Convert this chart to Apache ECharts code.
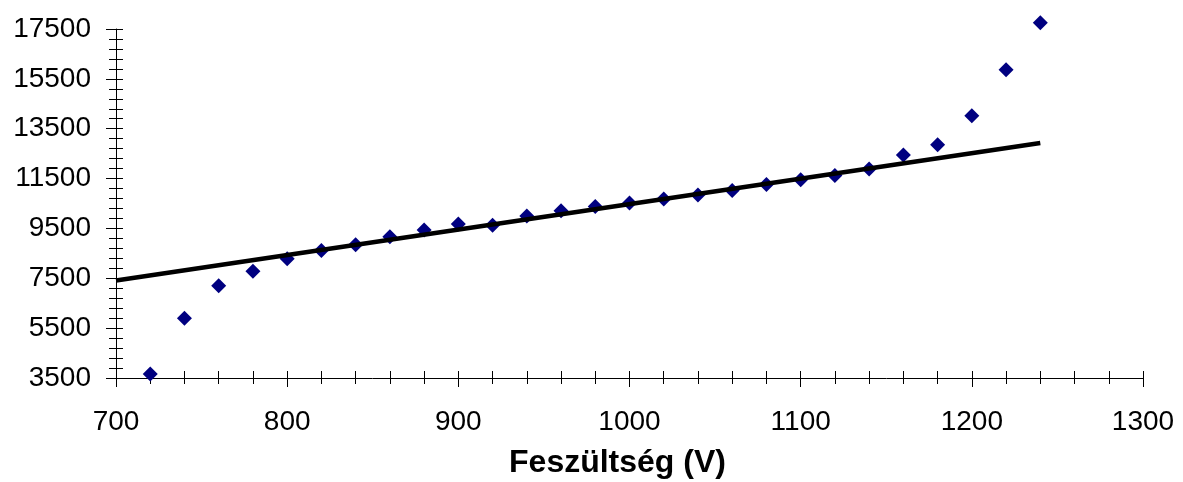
<!DOCTYPE html>
<html lang="hu">
<head>
	<meta charset="UTF-8">
	<title>Feszültség</title>
	<script src="https://cdn.jsdelivr.net/npm/echarts@6/dist/echarts.min.js"></script>
	<style>
		html, body { margin: 0; padding: 0; background: #fff; }
	</style>
</head>
<body>
	<div id="chart" style="width: 1183px; height: 482px;"></div>
	<script type="text/javascript">

		const voltage = [720, 740, 760, 780, 800, 820, 840, 860, 880, 900, 920, 940, 960, 980,
			1000, 1020, 1040, 1060, 1080, 1100, 1120, 1140, 1160, 1180, 1200, 1220, 1240];
		const counts = [3660, 5900, 7200, 7780, 8280, 8610, 8850, 9170, 9440, 9680, 9630, 10000,
			10210, 10380, 10520, 10680, 10840, 11020, 11260, 11450, 11620, 11880, 12450, 12860,
			14020, 15870, 17750];
		// trendline end points (V, value)
		const trendX = [700, 1240];
		const trendY = [7410, 12925];

		const xName = 'Feszültség (V)';
		const font = 'Liberation Sans, Arial, sans-serif';

		const chart = echarts.init(document.getElementById('chart'));

		const plain = (v) => String(v);
		const xBase = { type: 'value', min: 700, max: 1300, interval: 100, position: 'bottom', splitLine: { show: false } };
		const yBase = { type: 'value', min: 3500, max: 17500, interval: 2000, position: 'left', splitLine: { show: false } };

		chart.setOption({
			animation: false,
			grid: { left: 116, right: 40, top: 29, bottom: 104, containLabel: false, outerBoundsMode: 'none' },
			xAxis: [Object.assign({}, xBase, {
				name: xName,
				nameLocation: 'middle',
				nameGap: 69,
				nameTextStyle: { fontFamily: font, fontSize: 32, fontWeight: 'bold', color: '#000', padding: [0, 24, 0, 0] },
				axisLine: { lineStyle: { color: '#000', width: 1 } },
				axisTick: { show: true, inside: false, length: 9, lineStyle: { color: '#000' } },
				minorTick: { show: true, splitNumber: 5, length: 6, lineStyle: { color: '#000' } },
				axisLabel: { fontFamily: font, fontSize: 28, color: '#000', margin: 30, formatter: plain }
			}), Object.assign({}, xBase, {
				axisLine: { show: false },
				axisTick: { show: true, inside: true, length: 7, lineStyle: { color: '#000' } },
				minorTick: { show: true, splitNumber: 5, length: 7, lineStyle: { color: '#000' } },
				axisLabel: { show: false }
			})],
			yAxis: [Object.assign({}, yBase, {
				axisLine: { show: true, lineStyle: { color: '#000', width: 1 } },
				axisTick: { show: true, inside: false, length: 10, lineStyle: { color: '#000' } },
				minorTick: { show: true, splitNumber: 5, length: 7, lineStyle: { color: '#000' } },
				axisLabel: { fontFamily: font, fontSize: 28, color: '#000', margin: 25, formatter: plain }
			}), Object.assign({}, yBase, {
				axisLine: { show: false },
				axisTick: { show: true, inside: true, length: 7, lineStyle: { color: '#000' } },
				minorTick: { show: true, splitNumber: 5, length: 7, lineStyle: { color: '#000' } },
				axisLabel: { show: false }
			})],
			series: [{
				name: 'trend',
				type: 'line',
				xAxisIndex: 0,
				yAxisIndex: 0,
				data: trendX.map((x, i) => [x, trendY[i]]),
				showSymbol: false,
				clip: false,
				lineStyle: { color: '#000', width: 4.5 },
				z: 3
			}, {
				name: 'mérés',
				type: 'scatter',
				xAxisIndex: 0,
				yAxisIndex: 0,
				data: voltage.map((x, i) => [x, counts[i]]),
				symbol: 'diamond',
				symbolSize: 15,
				clip: false,
				itemStyle: { color: '#000080', opacity: 1 },
				z: 2
			}]
		});
	</script>
</body>
</html>
